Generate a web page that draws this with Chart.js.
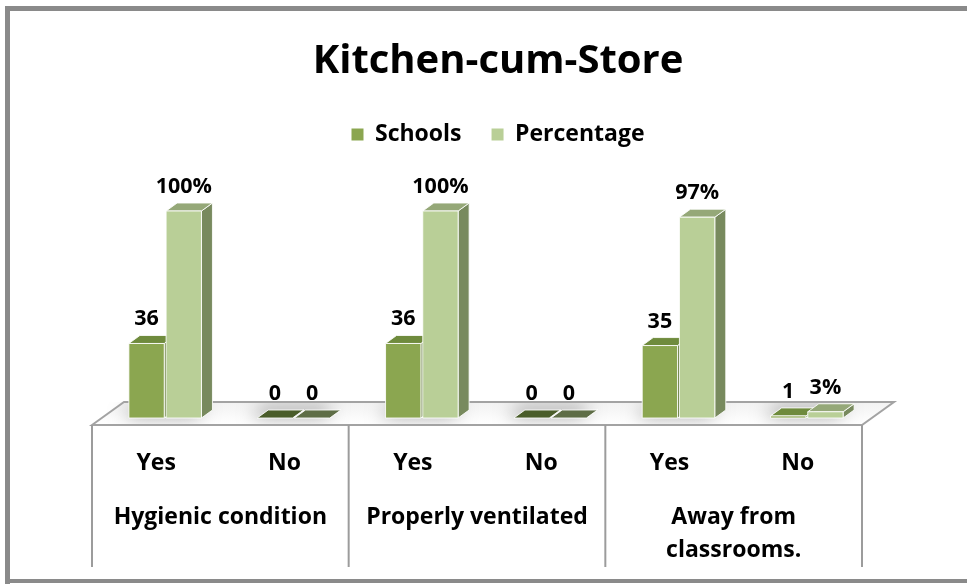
<!DOCTYPE html>
<html><head><meta charset="utf-8">
<script src="https://cdn.jsdelivr.net/npm/chart.js@4.4.0/dist/chart.umd.min.js"></script>
<style>html,body{margin:0;padding:0;background:#fff;} #wrap{width:967px;height:584px;position:relative;}</style>
</head><body><div id="wrap"><canvas id="c"></canvas></div>
<script>
const categories = ['Yes','No','Yes','No','Yes','No'];
const groupLabels = [['Hygienic condition'],['Properly ventilated'],['Away from','classrooms.']];
const schools = [36,0,36,0,35,1];
const percentage = [100,0,100,0,97,3];
const schoolsLabels = ['36','0','36','0','35','1'];
const percentageLabels = ['100%','0','100%','0','97%','3%'];
const seriesNames = ['Schools','Percentage'];
const chartTitle = 'Kitchen-cum-Store';

const FONT = '"Open Sans"';
const SHIFT = 9;
const DX = 11, DY = 8;
const PX_PER_UNIT = 2.07;
const styles = [
  {front:'#8BA650', top:'#6F8B3D', side:'#5F7634', zeroTop:'#4A5D2A'},
  {front:'#B9CF97', top:'#95A878', side:'#788A5E', zeroTop:'#5E6D46'}
];
const labelTexts = [schoolsLabels, percentageLabels];

function poly(ctx, pts, fill, stroke){
  ctx.beginPath(); ctx.moveTo(pts[0][0],pts[0][1]);
  for(let k=1;k<pts.length;k++) ctx.lineTo(pts[k][0],pts[k][1]);
  ctx.closePath();
  if(fill){ctx.fillStyle=fill; ctx.fill();}
  if(stroke){ctx.strokeStyle=stroke; ctx.stroke();}
}

const plugin = {
  id:'threeD',
  afterLayout(chart){
    const y=chart.scales.y; y.max=(y.bottom-y.top)/PX_PER_UNIT; y.configure();
  },
  beforeDatasetsDraw(chart){
    const ctx=chart.ctx, ca=chart.chartArea, xs=chart.scales.x;
    const fl=ca.left-SHIFT, fr=ca.right-SHIFT, fy=ca.bottom+7, by=ca.bottom-16, bo=32;
    ctx.save();
    const g=ctx.createLinearGradient(0,by,0,fy);
    g.addColorStop(0,'#F2F2F2'); g.addColorStop(1,'#FFFFFF');
    poly(ctx,[[fl,fy],[fl+bo,by],[fr+bo,by],[fr,fy]],g,null);
    const metas=[chart.getDatasetMeta(0),chart.getDatasetMeta(1)];
    for(let i=0;i<categories.length;i++){
      const a=metas[0].data[i], b=metas[1].data[i];
      const xl=a.x-a.width/2, xr=b.x+b.width/2, yb=a.base;
      ctx.save();
      ctx.beginPath(); ctx.rect(fl,by,fr+bo-fl,fy-by); ctx.clip();
      ctx.shadowColor='rgba(0,0,0,0.5)'; ctx.shadowBlur=18; ctx.shadowOffsetX=-6; ctx.shadowOffsetY=-2;
      poly(ctx,[[xl,yb],[xr,yb],[xr+DX,yb-DY],[xl+DX,yb-DY]],'#fff',null);
      ctx.restore();
    }
    ctx.lineWidth=2;
    poly(ctx,[[fl,fy],[fl+bo,by],[fr+bo,by],[fr,fy]],null,'#A3A3A3');
    const xb=[fl,(xs.getPixelForValue(1)+xs.getPixelForValue(2))/2-SHIFT,(xs.getPixelForValue(3)+xs.getPixelForValue(4))/2-SHIFT,fr];
    ctx.strokeStyle='#9C9C9C'; ctx.lineWidth=2;
    xb.forEach(xv=>{ctx.beginPath();ctx.moveTo(xv,fy);ctx.lineTo(xv,567);ctx.stroke();});
    ctx.lineWidth=1;
    for(let i=0;i<categories.length;i++){
      for(let d=0;d<2;d++){
        const el=metas[d].data[i], st=styles[d];
        const v=chart.data.datasets[d].data[i];
        const xl=el.x-el.width/2, xr=el.x+el.width/2, yT=el.y, yB=el.base;
        const edge='rgba(255,255,255,0.85)';
        poly(ctx,[[xr,yT],[xr+DX,yT-DY],[xr+DX,yB-DY],[xr,yB]],st.side,edge);
        poly(ctx,[[xl,yT],[xr,yT],[xr+DX,yT-DY],[xl+DX,yT-DY]],v===0?st.zeroTop:st.top,edge);
        if(yB-yT>0) poly(ctx,[[xl,yT],[xr,yT],[xr,yB],[xl,yB]],st.front,edge);
      }
    }
    ctx.fillStyle='#000'; ctx.textAlign='center'; ctx.textBaseline='alphabetic';
    ctx.font='bold 21.5px '+FONT;
    for(let i=0;i<categories.length;i++){
      for(let d=0;d<2;d++){
        const el=metas[d].data[i];
        ctx.fillText(labelTexts[d][i], el.x, el.y-18);
      }
    }
    ctx.font='bold 23px '+FONT;
    for(let i=0;i<categories.length;i++){
      ctx.fillText(categories[i], xs.getPixelForValue(i)-SHIFT, 470);
    }
    for(let gi=0;gi<groupLabels.length;gi++){
      const cx=(xs.getPixelForValue(gi*2)+xs.getPixelForValue(gi*2+1))/2-SHIFT;
      groupLabels[gi].forEach((t,li)=>ctx.fillText(t,cx,524+li*33));
    }
    ctx.strokeStyle='#8A8A8A';
    ctx.lineWidth=5; ctx.beginPath(); ctx.moveTo(7.5,585); ctx.lineTo(7.5,8.5); ctx.lineTo(970,8.5); ctx.stroke();
    ctx.lineWidth=4; ctx.beginPath(); ctx.moveTo(5,581); ctx.lineTo(970,581); ctx.stroke();
    ctx.restore();
    return false;
  }
};

new Chart(document.getElementById('c'),{
  type:'bar',
  data:{labels:categories,datasets:[
    {label:seriesNames[0],data:schools,backgroundColor:styles[0].front,borderWidth:0},
    {label:seriesNames[1],data:percentage,backgroundColor:styles[1].front,borderWidth:0}
  ]},
  options:{
    responsive:true, maintainAspectRatio:false, animation:false,
    layout:{padding:{left:92+SHIFT,right:967-862-SHIFT-24,bottom:584-418,top:0}},
    datasets:{bar:{categoryPercentage:0.58,barPercentage:0.95}},
    scales:{
      x:{display:false},
      y:{display:false,min:0},
      ySpacer:{type:'linear',position:'right',display:true,afterFit(s){s.width=24;},grid:{display:false,drawTicks:false},border:{display:false},ticks:{display:false}}
    },
    plugins:{
      tooltip:{enabled:false},
      title:{display:true,text:chartTitle,color:'#000',font:{family:'Open Sans',size:40,weight:'bold'},padding:{top:38,bottom:7}},
      legend:{display:true,position:'top',labels:{color:'#000',font:{family:'Open Sans',size:23,weight:'bold'},boxWidth:12,boxHeight:12,padding:30}}
    }
  },
  plugins:[plugin]
});
</script></body></html>
